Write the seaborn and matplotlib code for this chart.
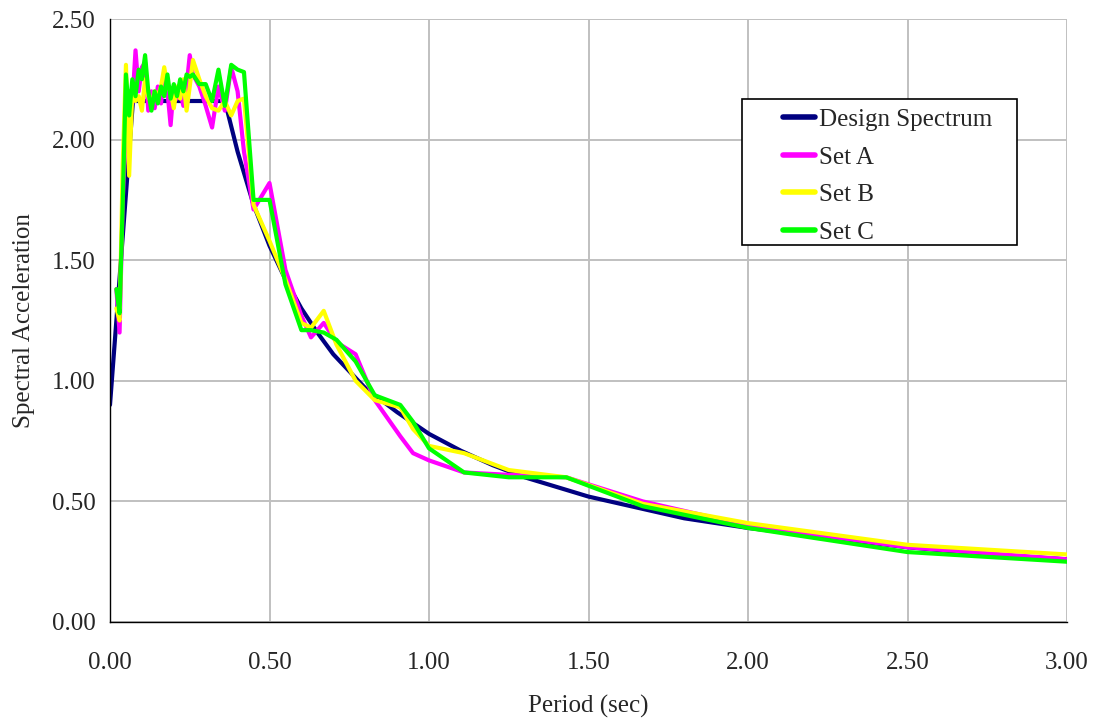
import numpy as np
import pandas as pd
import matplotlib
matplotlib.use('Agg')
import matplotlib.pyplot as plt
from matplotlib.patches import Rectangle
from matplotlib.ticker import MultipleLocator, FormatStrFormatter
import seaborn as sns

# design spectrum
design_period = [0.0, 0.072, 0.36, 0.40, 0.45, 0.50, 0.55, 0.60, 0.65, 0.70, 0.75,
                 0.80, 0.90, 1.00, 1.10, 1.20, 1.30, 1.40, 1.50, 1.60, 1.70, 1.80,
                 1.90, 2.00, 2.25, 2.50, 2.75, 3.00]
design_sa = [0.90, 2.16, 2.16, 1.95, 1.73, 1.56, 1.42, 1.30, 1.20, 1.11, 1.04,
             0.97, 0.87, 0.78, 0.71, 0.65, 0.60, 0.56, 0.52, 0.49, 0.46, 0.43,
             0.41, 0.39, 0.35, 0.31, 0.28, 0.26]

# record sets
set_period = [0.02, 0.03, 0.04, 0.05, 0.06, 0.07, 0.08, 0.09, 0.10, 0.11, 0.12,
              0.13, 0.14, 0.15, 0.16, 0.17, 0.18, 0.19, 0.20, 0.21, 0.22, 0.23,
              0.24, 0.25, 0.26, 0.28, 0.30, 0.32, 0.34, 0.36, 0.38, 0.40, 0.42,
              0.45, 0.50, 0.55, 0.60, 0.63, 0.67, 0.71, 0.77, 0.83, 0.91, 0.95,
              1.00, 1.11, 1.25, 1.43, 1.67, 2.00, 2.50, 3.00]
set_a = [1.38, 1.20, 1.75, 2.05, 2.20, 2.15, 2.37, 2.20, 2.30, 2.32, 2.12,
         2.20, 2.13, 2.22, 2.15, 2.27, 2.20, 2.06, 2.22, 2.17, 2.20, 2.14,
         2.22, 2.35, 2.27, 2.22, 2.14, 2.05, 2.22, 2.12, 2.30, 2.20, 1.95,
         1.71, 1.82, 1.46, 1.27, 1.18, 1.24, 1.16, 1.11, 0.92, 0.77, 0.70,
         0.67, 0.62, 0.61, 0.60, 0.50, 0.40, 0.31, 0.26]
set_b = [1.30, 1.25, 1.90, 2.31, 1.85, 2.20, 2.16, 2.18, 2.12, 2.25, 2.18,
         2.15, 2.20, 2.18, 2.22, 2.30, 2.22, 2.20, 2.13, 2.22, 2.17, 2.25,
         2.12, 2.22, 2.33, 2.25, 2.18, 2.13, 2.12, 2.16, 2.10, 2.16, 2.17,
         1.73, 1.58, 1.42, 1.24, 1.22, 1.29, 1.15, 1.00, 0.92, 0.89, 0.80,
         0.73, 0.70, 0.63, 0.60, 0.49, 0.41, 0.32, 0.28]
set_c = [1.38, 1.28, 1.74, 2.27, 2.10, 2.25, 2.18, 2.29, 2.25, 2.35, 2.20,
         2.12, 2.20, 2.15, 2.22, 2.18, 2.27, 2.17, 2.23, 2.18, 2.25, 2.20,
         2.27, 2.26, 2.27, 2.23, 2.23, 2.16, 2.29, 2.14, 2.31, 2.29, 2.28,
         1.75, 1.75, 1.40, 1.21, 1.21, 1.20, 1.17, 1.08, 0.94, 0.90, 0.83,
         0.72, 0.62, 0.60, 0.60, 0.48, 0.39, 0.29, 0.25]

series_names = ['Design Spectrum', 'Set A', 'Set B', 'Set C']
series_colors = ['#000080', '#FF00FF', '#FFFF00', '#00FF00']

frames = [pd.DataFrame({'Period': design_period, 'SA': design_sa, 'Series': 'Design Spectrum'})]
for name, vals in zip(series_names[1:], [set_a, set_b, set_c]):
    frames.append(pd.DataFrame({'Period': set_period, 'SA': vals, 'Series': name}))
df = pd.concat(frames, ignore_index=True)

sns.set_style('white')
plt.rcParams['font.family'] = ['Liberation Serif', 'DejaVu Serif']

fig = plt.figure(figsize=(10.97, 7.21), dpi=100)
ax = fig.add_axes([110 / 1097, 1 - 622 / 721, 957 / 1097, 603 / 721])

sns.lineplot(data=df, x='Period', y='SA', hue='Series', hue_order=series_names,
             palette=series_colors, estimator=None, sort=False, linewidth=3,
             legend=False, ax=ax)

ax.set_xlim(0, 3.0)
ax.set_ylim(0, 2.5)
ax.xaxis.set_major_locator(MultipleLocator(0.5))
ax.xaxis.set_minor_locator(MultipleLocator(0.1))
ax.yaxis.set_major_locator(MultipleLocator(0.5))
ax.yaxis.set_minor_locator(MultipleLocator(0.1))
ax.xaxis.set_major_formatter(FormatStrFormatter('%.2f'))
ax.yaxis.set_major_formatter(FormatStrFormatter('%.2f'))
ax.grid(True, which='major', color='#c0c0c0', linewidth=1.4)
ax.set_axisbelow(True)
for s in ['top', 'right']:
    ax.spines[s].set_visible(False)
for s in ['left', 'bottom']:
    ax.spines[s].set_color('black')
    ax.spines[s].set_linewidth(1.0)
ax.tick_params(axis='both', which='major', direction='inout', length=9, width=1,
               color='black', labelsize=18, pad=6)
ax.tick_params(axis='x', which='minor', direction='in', length=5, width=1, color='black')
ax.tick_params(axis='y', which='minor', direction='out', length=5, width=1, color='black')
ax.tick_params(axis='x', which='major', pad=17)

ax.set_xlabel('Period (sec)', fontsize=18, labelpad=15)
ax.set_ylabel('Spectral Acceleration', fontsize=18, labelpad=12)

# legend box
ax.add_patch(Rectangle((0.660, 0.625), 0.288, 0.242, transform=ax.transAxes,
                       facecolor='white', edgecolor='black', linewidth=1.2, zorder=4))
handles = [plt.Line2D([], [], color=c, linewidth=4) for c in series_colors]
leg = ax.legend(handles, series_names, loc='upper left', bbox_to_anchor=(0.690, 0.872),
                frameon=False, fontsize=18, borderpad=0, handlelength=1.3,
                handletextpad=0.15, labelspacing=0.6)
leg.set_zorder(5)

fig.savefig('out.png', dpi=100)
